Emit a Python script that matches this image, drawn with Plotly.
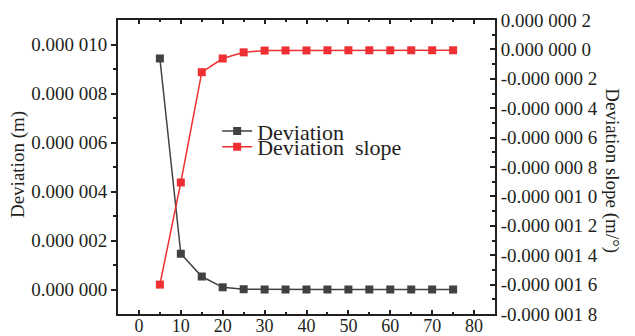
import plotly.graph_objects as go

x_angle = [5, 10, 15, 20, 25, 30, 35, 40, 45, 50, 55, 60, 65, 70, 75]
deviation = [9.43e-6, 1.46e-6, 0.53e-6, 0.09e-6, 0.01e-6, 0.0, 0.0, 0.0, 0.0, 0.0, 0.0, 0.0, 0.0, 0.0, 0.0]
deviation_slope = [-1.60e-6, -0.905e-6, -0.155e-6, -0.062e-6, -0.02e-6, -0.008e-6, -0.007e-6,
                   -0.007e-6, -0.006e-6, -0.006e-6, -0.006e-6, -0.006e-6, -0.006e-6, -0.006e-6, -0.006e-6]

x_tickvals = [0, 10, 20, 30, 40, 50, 60, 70, 80]
left_tickvals = [0.0, 2e-6, 4e-6, 6e-6, 8e-6, 1e-5]
left_ticktext = ["0.000 000", "0.000 002", "0.000 004", "0.000 006", "0.000 008", "0.000 010"]
right_tickvals = [2e-7, 0.0, -2e-7, -4e-7, -6e-7, -8e-7, -1.0e-6, -1.2e-6, -1.4e-6, -1.6e-6, -1.8e-6]
right_ticktext = ["0.000 000 2", "0.000 000 0", "-0.000 000 2", "-0.000 000 4", "-0.000 000 6",
                  "-0.000 000 8", "-0.000 001 0", "-0.000 001 2", "-0.000 001 4", "-0.000 001 6",
                  "-0.000 001 8"]

FONT = "Liberation Serif"
AX = "#231f20"
BLACK = "#414141"
RED = "#ee2f33"

fig = go.Figure()
fig.add_trace(go.Scatter(x=x_angle, y=deviation, name="Deviation", mode="lines+markers",
                         legend="legend",
                         line=dict(color=BLACK, width=1.5),
                         marker=dict(symbol="square", size=8, color=BLACK)))
fig.add_trace(go.Scatter(x=x_angle, y=deviation_slope, name="Deviation  slope", mode="lines+markers",
                         yaxis="y2", legend="legend2",
                         line=dict(color=RED, width=1.5),
                         marker=dict(symbol="square", size=8, color=RED)))

leg_common = dict(xanchor="left", yanchor="middle", bgcolor="rgba(0,0,0,0)",
                  font=dict(size=22, family=FONT, color="#231f20"), itemwidth=30)

fig.update_layout(
    width=635, height=336,
    margin=dict(l=118, r=140, t=20, b=22),
    paper_bgcolor="white", plot_bgcolor="white",
    font=dict(family=FONT, size=19, color="#231f20"),
    showlegend=True,
    legend=dict(x=0.263, y=0.622, **leg_common),
    legend2=dict(x=0.263, y=0.568, **leg_common),
    xaxis=dict(range=[-5, 85], tickvals=x_tickvals, automargin=False,
               showline=True, linecolor=AX, linewidth=2, mirror="ticks",
               ticks="inside", ticklen=4, tickwidth=1.5, tickcolor=AX,
               ticklabelstandoff=-6,
               minor=dict(dtick=5, tick0=0, ticks="inside", ticklen=2, tickcolor=AX, tickwidth=1.5),
               showgrid=False, zeroline=False, tickfont=dict(size=18)),
    yaxis=dict(range=[-1e-6, 1.1e-5], tickvals=left_tickvals, ticktext=left_ticktext,
               automargin=False,
               showline=True, linecolor=AX, linewidth=2,
               ticks="outside", ticklen=5, tickwidth=1.5, tickcolor=AX,
               minor=dict(tickvals=[1e-6, 3e-6, 5e-6, 7e-6, 9e-6], ticks="outside", ticklen=3,
                          tickcolor=AX, tickwidth=1.5),
               showgrid=False, zeroline=False, tickfont=dict(size=19)),
    yaxis2=dict(range=[-1.8e-6, 2e-7], tickvals=right_tickvals, ticktext=right_ticktext,
                overlaying="y", side="right", automargin=False,
                showline=True, linecolor=AX, linewidth=2,
                ticks="inside", ticklen=5, tickwidth=1.5, tickcolor=AX,
                minor=dict(tickvals=[1e-7, -1e-7, -3e-7, -5e-7, -7e-7, -9e-7, -1.1e-6, -1.3e-6,
                                     -1.5e-6, -1.7e-6], ticks="inside", ticklen=3,
                           tickcolor=AX, tickwidth=1.5),
                showgrid=False, zeroline=False, tickfont=dict(size=19)),
    annotations=[
        dict(text="Deviation (m)", textangle=-90, xref="paper", yref="paper",
             x=-0.265, y=0.507, xanchor="center", yanchor="middle", showarrow=False,
             font=dict(size=19, family=FONT)),
        dict(text="Deviation slope (m/°)", textangle=90, xref="paper", yref="paper",
             x=1.31, y=0.486, xanchor="center", yanchor="middle", showarrow=False,
             font=dict(size=19, family=FONT)),
    ],
)

fig.write_html("out.html")
